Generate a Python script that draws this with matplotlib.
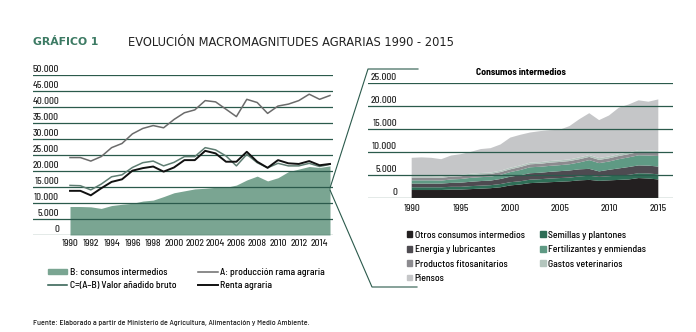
import matplotlib
matplotlib.use('Agg')
import matplotlib.pyplot as plt
import matplotlib.transforms as mtrans
from matplotlib.lines import Line2D
from matplotlib.patches import Patch
import numpy as np

years = np.arange(1990, 2016)

# left chart (millones de euros)
produccion = [24200, 24200, 23100, 24500, 27300, 28600, 31600, 33300, 34200, 33500,
              36100, 38200, 39100, 42000, 41600, 39300, 37000, 42400, 41400, 38000,
              40300, 40900, 42000, 44000, 42400, 43600]
consumos = [8900, 8900, 8800, 8300, 9200, 9600, 9900, 10600, 10900, 12000,
            13200, 13800, 14400, 14600, 14900, 14900, 15600, 17200, 18400, 16900,
            17900, 19800, 20600, 21400, 21100, 21600]
vab = [15500, 15400, 14100, 15900, 18200, 18800, 21100, 22600, 23100, 21600,
       22700, 24500, 24500, 27300, 26600, 24700, 21600, 25200, 22600, 21000,
       22400, 21600, 21600, 22400, 21400, 22100]
renta = [13800, 13800, 12400, 14600, 16600, 17400, 20100, 20900, 21400, 19800,
         21100, 23400, 23400, 26300, 25500, 22900, 22900, 26000, 22900, 21000,
         23400, 22400, 22200, 23100, 21800, 22200]

# right chart: consumos intermedios desglosados
otros = [1800, 1800, 1800, 1800, 1900, 1900, 2000, 2100, 2200, 2400,
         2800, 3000, 3300, 3400, 3500, 3600, 3700, 3900, 4000, 3800,
         3900, 4000, 4100, 4400, 4300, 4100]
semillas = [600, 600, 600, 600, 600, 600, 650, 650, 650, 700,
            700, 700, 750, 750, 800, 800, 800, 850, 900, 850,
            900, 950, 1000, 1050, 1100, 1100]
energia = [800, 800, 800, 800, 850, 900, 950, 1000, 1000, 1100,
           1200, 1300, 1400, 1400, 1450, 1500, 1550, 1550, 1500, 1200,
           1400, 1550, 1700, 1700, 1700, 1700]
fertilizantes = [700, 700, 700, 650, 750, 800, 850, 850, 850, 900,
                 1000, 1150, 1300, 1300, 1300, 1300, 1350, 1500, 1900, 1800,
                 1800, 2000, 2100, 2200, 2200, 2300]
fitosanitarios = [600, 600, 600, 600, 600, 600, 600, 600, 600, 600,
                  600, 650, 650, 650, 700, 700, 700, 700, 700, 700,
                  700, 700, 700, 700, 700, 700]
veterinarios = [300, 300, 300, 300, 300, 300, 300, 300, 300, 300,
                350, 350, 350, 350, 350, 350, 350, 400, 400, 400,
                400, 400, 400, 400, 400, 400]
total_ci = [8800, 8900, 8800, 8500, 9300, 9600, 10100, 10700, 10900, 11700,
            13200, 13800, 14300, 14600, 14800, 14900, 15700, 17200, 18500, 17000,
            18000, 19700, 20400, 21300, 21000, 21500]
piensos = [t - (a + b + c + d + e + f) for t, a, b, c, d, e, f in
           zip(total_ci, otros, semillas, energia, fertilizantes, fitosanitarios, veterinarios)]

left_ticks = np.arange(0, 50001, 5000)
left_xticks = np.arange(1990, 2015, 2)
right_ticks = np.arange(0, 25001, 5000)
right_xticks = np.arange(1990, 2016, 5)

def fmt(v):
    return '{:,}'.format(v).replace(',', '.')

W, H = 696, 332
GRID = '#2b5a4c'
FS = 7
plt.rcParams['font.family'] = ['Barlow Semi Condensed', 'DejaVu Sans']
plt.rcParams['font.weight'] = 'medium'
TITLEFONT = ['DejaVu Sans']

fig = plt.figure(figsize=(W / 100, H / 100), dpi=100)

def fx(x):
    return x / W
def fy(y):
    return 1 - y / H

def px_axes(x0, y0, x1, y1):
    return fig.add_axes([x0 / W, 1 - y1 / H, (x1 - x0) / W, (y1 - y0) / H])

# ---- left chart
ax = px_axes(33, 75, 333, 235)
ax.fill_between(years, consumos, color='#7aa592', lw=0, zorder=1)
ax.plot(years, produccion, color='#6b6b6b', lw=1.1, zorder=3)
ax.plot(years, vab, color='#5e7d72', lw=1.1, zorder=3)
ax.plot(years, renta, color='#111111', lw=1.4, zorder=4)
tr = mtrans.blended_transform_factory(fig.transFigure, ax.transData)
for v in left_ticks:
    ax.axhline(v, color=GRID, lw=0.9, zorder=2 if v else 5)
    ax.text(fx(59), v + 250, fmt(v), transform=tr, ha='right', va='bottom',
            fontsize=FS, color='#222222')
ax.set_xlim(1990 - 37 / 10.4, 2015 + 3 / 10.4)
ax.set_ylim(0, 50000)
ax.set_xticks(left_xticks)
ax.set_xticklabels([str(y) for y in left_xticks], fontsize=FS, color='#222222')
ax.tick_params(axis='x', length=0, pad=3)
ax.set_yticks([])
for s in ax.spines.values():
    s.set_visible(False)

# ---- right chart
ax2 = px_axes(368, 83.3, 673, 198.3)
layers = [otros, semillas, energia, fertilizantes, fitosanitarios, veterinarios, piensos]
names = ['Otros consumos intermedios', 'Semillas y plantones', 'Energía y lubricantes',
         'Fertilizantes y enmiendas', 'Productos fitosanitarios', 'Gastos veterinarios',
         'Piensos']
colors = ['#231f20', '#2f6e57', '#4e4b51', '#5f9a84', '#8c8b8f', '#b3c5bd', '#c5c6c8']
ax2.stackplot(years, *layers, colors=colors, lw=0, zorder=1)
tr2 = mtrans.blended_transform_factory(fig.transFigure, ax2.transData)
for v in right_ticks:
    ax2.axhline(v, color=GRID, lw=0.9, zorder=5 if v == 0 else 2)
    ax2.text(fx(397), v + 300, fmt(v), transform=tr2, ha='right', va='bottom',
             fontsize=FS, color='#222222')
ax2.set_xlim(1990 - 43.7 / 9.87, 2015 + 14.7 / 9.87)
ax2.set_ylim(0, 25000)
ax2.set_xticks(right_xticks)
ax2.set_xticklabels([str(y) for y in right_xticks], fontsize=FS, color='#222222')
ax2.tick_params(axis='x', length=0, pad=4)
ax2.set_yticks([])
for s in ax2.spines.values():
    s.set_visible(False)
ax2.set_title('Consumos intermedios', fontsize=FS, fontweight='bold', pad=6)

# ---- connector lines
fig.add_artist(Line2D([fx(330), fx(368), fx(418)], [fy(188), fy(69), fy(69)], color=GRID, lw=0.8))
fig.add_artist(Line2D([fx(330), fx(372), fx(417)], [fy(190), fy(287), fy(287)], color=GRID, lw=0.8))

# ---- titles
fig.text(fx(33), fy(42), 'GRÁFICO 1', fontsize=7.8, fontweight='bold', color='#3c7a63',
         family=TITLEFONT, va='center')
fig.text(fx(128), fy(42), 'EVOLUCIÓN MACROMAGNITUDES AGRARIAS 1990 - 2015', fontsize=8.3,
         fontweight='normal', color='#222222', family=TITLEFONT, va='center')

# ---- legends
h_left = [Patch(color='#7aa592'), Line2D([], [], color=GRID, lw=1.1),
          Line2D([], [], color='#6b6b6b', lw=1.1), Line2D([], [], color='#111111', lw=1.4)]
l_left = ['B: consumos intermedios', 'C=(A–B) Valor añadido bruto',
          'A: producción rama agraria', 'Renta agraria']
fig.legend(h_left, l_left, ncol=2, frameon=False, fontsize=FS, loc='upper left',
           bbox_to_anchor=(fx(43), fy(263)), handlelength=2.0, handleheight=0.45,
           handletextpad=0.3, columnspacing=2.2, labelspacing=0.4, borderpad=0)

h_right = [Patch(color=c) for c in colors]
order = [0, 2, 4, 6, 1, 3, 5]
fig.legend([h_right[i] for i in order], [names[i] for i in order], ncol=2, frameon=False,
           fontsize=FS, loc='upper left', bbox_to_anchor=(fx(402), fy(226)),
           handlelength=0.55, handleheight=0.55, handletextpad=0.25, columnspacing=1.6,
           labelspacing=0.55, borderpad=0)

fig.text(fx(33), fy(323), 'Fuente: Elaborado a partir de Ministerio de Agricultura, '
         'Alimentación y Medio Ambiente.', fontsize=5.8, color='#222222', va='center')

fig.savefig('out.png', dpi=100, facecolor='white')
